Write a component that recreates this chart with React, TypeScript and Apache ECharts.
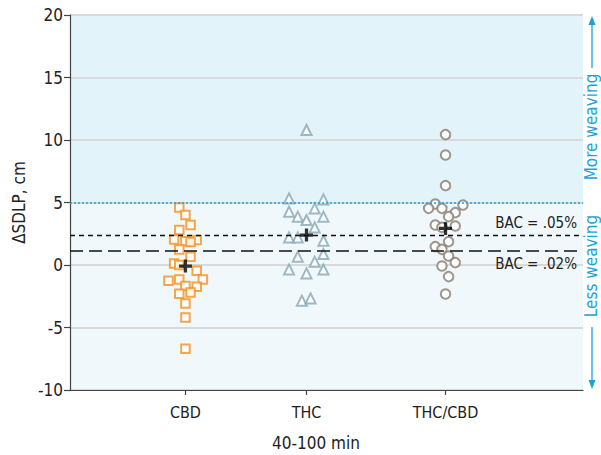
import React, { useEffect, useRef } from "react";
import * as echarts from "echarts";

// ---- data ----
const categoryNames = ["CBD", "THC", "THC/CBD"];
const categoryPositions = [22.5, 46.1, 73.2];

const cbdPoints = [
  [21.3, 4.6], [22.5, 4.0], [23.5, 3.2], [21.3, 2.8], [20.3, 2.05], [22.5, 1.9],
  [24.7, 2.0], [23.5, 1.85], [21.3, 1.25], [23.5, 0.66], [20.3, 0.13], [21.3, 0.0],
  [24.7, -0.45], [19.2, -1.25], [21.3, -1.15], [25.9, -1.15], [24.7, -1.73],
  [22.5, -1.68], [23.5, -2.2], [21.3, -2.3], [22.5, -3.07], [22.5, -4.2], [22.5, -6.7],
];
const thcPoints = [
  [46.1, 10.8], [42.7, 5.33], [49.4, 5.25], [47.7, 4.53], [42.7, 4.27], [44.4, 3.87],
  [49.4, 3.87], [46.1, 3.6], [47.7, 3.01], [42.7, 2.21], [44.4, 2.21], [49.4, 1.95],
  [49.4, 0.88], [44.4, 0.67], [47.7, 0.27], [42.7, -0.35], [49.4, -0.35], [46.1, -0.67],
  [45.2, -2.85], [46.9, -2.67],
];
const comboPoints = [
  [73.2, 10.43], [73.2, 8.8], [73.2, 6.35], [71.2, 4.88], [69.9, 4.53], [72.5, 4.53],
  [76.6, 4.8], [75.1, 4.19], [73.8, 3.87], [71.2, 3.2], [72.5, 3.01], [75.1, 3.12],
  [73.8, 1.87], [71.2, 1.47], [72.5, 1.25], [73.8, 0.72], [75.1, 0.19], [72.5, -0.08],
  [73.8, -0.93], [73.2, -2.32],
];
const meanPoints = [
  [22.5, -0.08],
  [46.1, 2.4],
  [73.2, 2.93],
];
const weavingThreshold = 5;
const bacLabels = ["BAC = .05%", "BAC = .02%"];
const bacValues = [2.4, 1.12];
const yTicks = { min: -10, max: 20, interval: 5 };

const FONT = "'Liberation Sans Narrow', 'DejaVu Sans Condensed', 'Noto Sans', sans-serif";
const BLUE = "#1ba3dc";

export default function App() {
  const ref = useRef<HTMLDivElement>(null);

  useEffect(() => {
    if (!ref.current) return;
    const chart = echarts.init(ref.current, undefined, { renderer: "svg" });
    const plusPath = "path://M0,4.5H4.5V0H7.5V4.5H12V7.5H7.5V12H4.5V7.5H0Z";

    chart.setOption({
      animation: false,
      backgroundColor: "#ffffff",
      grid: { left: 70, right: 18, top: 15, bottom: 65 },
      xAxis: {
        type: "value",
        min: 0,
        max: 100,
        splitLine: { show: false },
        axisLine: { show: true, onZero: false, lineStyle: { color: "#444", width: 1.2 } },
        axisTick: {
          show: true,
          length: 5,
          customValues: categoryPositions,
          lineStyle: { color: "#444", width: 1.2 },
        },
        axisLabel: {
          customValues: categoryPositions,
          formatter: (v: number) => {
            const i = categoryPositions.findIndex((p) => Math.abs(p - v) < 0.01);
            return i >= 0 ? categoryNames[i] : "";
          },
          color: "#222",
          fontSize: 16,
          fontFamily: FONT,
          margin: 14,
        },
      },
      yAxis: {
        type: "value",
        min: yTicks.min,
        max: yTicks.max,
        interval: yTicks.interval,
        name: "ΔSDLP, cm",
        nameLocation: "middle",
        nameGap: 31,
        nameTextStyle: { color: "#222", fontSize: 17, fontFamily: FONT },
        axisLine: { show: true, lineStyle: { color: "#444", width: 1.2 } },
        axisTick: { show: true, length: 6, lineStyle: { color: "#444", width: 1.2 } },
        axisLabel: {
          color: "#222",
          fontSize: 17,
          fontFamily: FONT,
          margin: 7,
          formatter: (v: number) => String(v),
        },
        splitLine: { show: true, lineStyle: { color: "#d9d9d9", width: 2 } },
      },
      series: [
        {
          type: "line",
          data: [],
          silent: true,
          markArea: {
            z: -1,
            silent: true,
            data: [
              [{ yAxis: weavingThreshold, itemStyle: { color: "#e2f3fa" } }, { yAxis: yTicks.max }],
              [{ yAxis: yTicks.min, itemStyle: { color: "#f0f8fc" } }, { yAxis: weavingThreshold }],
            ],
          },
          markLine: {
            silent: true,
            symbol: ["none", "none"],
            data: [
              {
                yAxis: weavingThreshold,
                lineStyle: { color: BLUE, type: [2, 2], width: 1.5 },
                label: { show: false },
              },
              {
                yAxis: bacValues[0],
                lineStyle: { color: "#111", type: [5, 4], width: 1.3 },
                label: {
                  show: true,
                  formatter: bacLabels[0],
                  position: "insideEndTop",
                  distance: [6, 5],
                  color: "#222",
                  fontSize: 15,
                  fontFamily: FONT,
                },
              },
              {
                yAxis: bacValues[1],
                lineStyle: { color: "#111", type: [13, 6], width: 1.6 },
                label: {
                  show: true,
                  formatter: bacLabels[1],
                  position: "insideEndBottom",
                  distance: [6, 5],
                  color: "#222",
                  fontSize: 15,
                  fontFamily: FONT,
                },
              },
            ],
          },
        },
        {
          name: "CBD",
          type: "scatter",
          data: cbdPoints,
          symbol: "rect",
          symbolSize: 8.5,
          itemStyle: { color: "#ffffff", borderColor: "#f6901e", borderWidth: 2 },
          z: 3,
        },
        {
          name: "THC",
          type: "scatter",
          data: thcPoints,
          symbol: "triangle",
          symbolSize: 10,
          itemStyle: { color: "#ffffff", borderColor: "#87a8b4", borderWidth: 2 },
          z: 3,
        },
        {
          name: "THC/CBD",
          type: "scatter",
          data: comboPoints,
          symbol: "circle",
          symbolSize: 9.5,
          itemStyle: { color: "#ffffff", borderColor: "#8a7b6b", borderWidth: 2 },
          z: 3,
        },
        {
          name: "Mean",
          type: "scatter",
          data: meanPoints,
          symbol: plusPath,
          symbolSize: 13,
          itemStyle: { color: "#000" },
          z: 4,
        },
      ],
      graphic: [
        {
          type: "text",
          x: 316,
          y: 443,
          style: {
            text: "40-100 min",
            align: "center",
            verticalAlign: "middle",
            fill: "#222",
            fontSize: 17,
            fontFamily: FONT,
          },
        },
        {
          type: "text",
          x: 591,
          y: 127,
          rotation: Math.PI / 2,
          style: {
            text: "More weaving",
            align: "center",
            verticalAlign: "middle",
            fill: BLUE,
            fontSize: 17,
            fontFamily: FONT,
          },
        },
        {
          type: "text",
          x: 591,
          y: 266,
          rotation: Math.PI / 2,
          style: {
            text: "Less weaving",
            align: "center",
            verticalAlign: "middle",
            fill: BLUE,
            fontSize: 17,
            fontFamily: FONT,
          },
        },
        {
          type: "line",
          shape: { x1: 592, y1: 22, x2: 592, y2: 68 },
          style: { stroke: BLUE, lineWidth: 1.3 },
        },
        {
          type: "polygon",
          shape: { points: [[588.5, 25], [592, 16], [595.5, 25]] },
          style: { fill: BLUE },
        },
        {
          type: "line",
          shape: { x1: 592, y1: 327, x2: 592, y2: 382 },
          style: { stroke: BLUE, lineWidth: 1.3 },
        },
        {
          type: "polygon",
          shape: { points: [[588.5, 380], [592, 389], [595.5, 380]] },
          style: { fill: BLUE },
        },
      ],
    });

    return () => chart.dispose();
  }, []);

  return (
    <div
      ref={ref}
      style={{ position: "fixed", left: 0, top: 0, width: 601, height: 455 }}
    />
  );
}
